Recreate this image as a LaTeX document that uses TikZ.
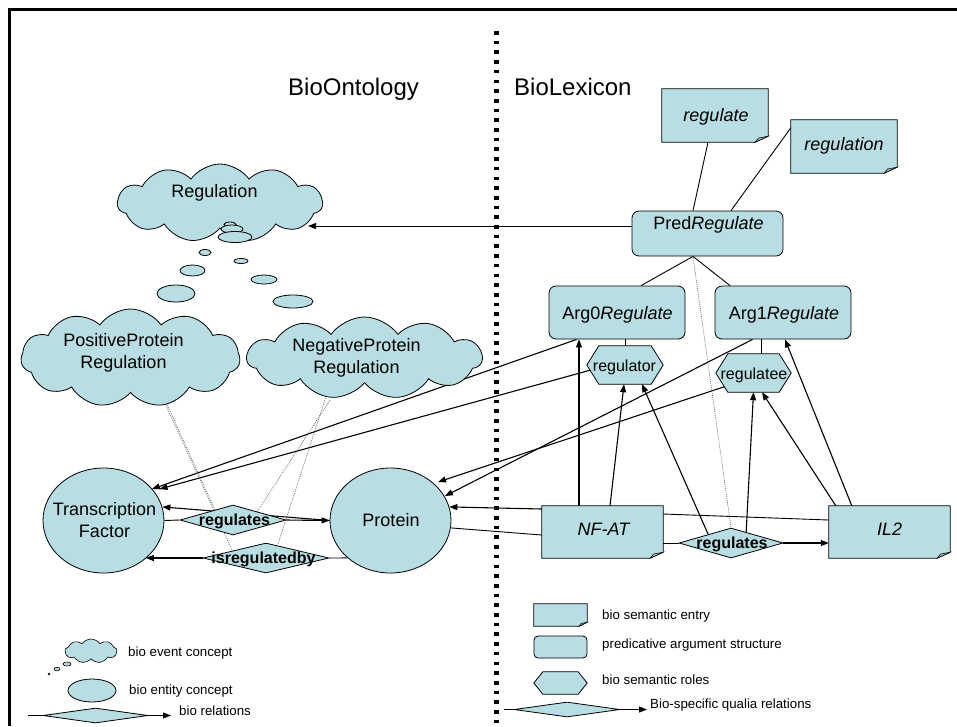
\documentclass[tikz,border=0pt]{standalone}
\usepackage{fontspec}
\setmainfont{Liberation Sans}
\usetikzlibrary{shapes.geometric,shapes.symbols,arrows.meta}
\pgfdeclarelayer{bg}
\pgfsetlayers{bg,main}
\definecolor{cfill}{RGB}{184,222,227}
\definecolor{cfold}{RGB}{150,184,189}
\newcommand\hexagonshape[2]{\filldraw[shp] (#1.west) -- ([xshift=#2]#1.north west) -- ([xshift=-#2]#1.north east) -- (#1.east) -- ([xshift=-#2]#1.south east) -- ([xshift=#2]#1.south west) -- cycle;}
\newcommand\docshape[3]{\filldraw[shp] (#1.north west) -- (#1.north east) -- ([yshift=#3]#1.south east) -- ([xshift=-#2]#1.south east) -- (#1.south west) -- cycle;
\filldraw[shp, fill=cfold, line width=0.5pt] ([yshift=#3]#1.south east) -- ([xshift=-#2]#1.south east) -- ([xshift=-0.75*#2,yshift=0.7*#3]#1.south east) -- cycle;}
\begin{document}
\begin{tikzpicture}[x=1pt,y=-1pt,
  shp/.style={fill=cfill, draw=black, line width=0.8pt},
  box/.style={rectangle, inner sep=0pt, draw=none},
  rbox/.style={rectangle, rounded corners=7pt, inner sep=0pt, shp},
  ell/.style={ellipse, inner sep=0pt, shp},
  dia/.style={diamond, inner sep=0pt, shp},
  cld/.style={cloud, cloud ignores aspect, cloud puffs=11, cloud puff arc=110, inner sep=0pt, shp},
  txt/.style={inner sep=0pt, font=\fontsize{18}{22}\selectfont, align=center},
  btxt/.style={inner sep=0pt, font=\fontsize{16}{19}\selectfont\bfseries},
  rtxt/.style={inner sep=0pt, font=\fontsize{16}{19}\selectfont},
  htxt/.style={inner sep=0pt, font=\fontsize{24}{28}\selectfont, anchor=base west},
  ltxt/.style={inner sep=0pt, font=\fontsize{13.3}{16}\selectfont, anchor=west},
  conn/.style={line width=0.9pt},
  arr/.style={line width=1.1pt, -{Triangle[length=8pt,width=6pt]}},
  dots/.style={line width=0.6pt, black!60, dash pattern=on 1pt off 1pt},
]
\useasboundingbox (0,0) rectangle (957,726);
% frame
\coordinate (fa) at (9.5,726);
\coordinate (fb) at (9.5,9.5);
\coordinate (fc) at (957,9.5);
\draw[line width=2.7pt] (fa) -- (fb) -- (fc);
% headers
\node[htxt] (hont) at (288,95) {BioOntology};
\node[htxt] (hlex) at (514,95) {BioLexicon};
% clouds
\node[cld, minimum width=205pt, minimum height=78pt] (regc) at (220,203) {};
\node[cld, minimum width=219pt, minimum height=98pt] (posc) at (130.5,358) {};
\node[cld, minimum width=235pt, minimum height=82pt] (negc) at (364.5,358) {};
\node[txt] (regct) at (214.5,193) {Regulation};
\node[txt] (posct) at (123.5,352.5) {PositiveProtein\\Regulation};
\node[txt] (negct) at (356.5,357.5) {NegativeProtein\\Regulation};
% thought bubbles
\node[ell, minimum width=12pt, minimum height=5pt] (b1) at (230,224.5) {};
\node[ell, minimum width=22pt, minimum height=8pt] (b2) at (232,229) {};
\node[ell, minimum width=34pt, minimum height=11pt] (b3) at (235,237) {};
\node[ell, minimum width=12pt, minimum height=6pt] (b4) at (205,252.5) {};
\node[ell, minimum width=25pt, minimum height=11pt] (b5) at (192.5,270.5) {};
\node[ell, minimum width=38pt, minimum height=17pt] (b6) at (176,293.5) {};
\node[ell, minimum width=14pt, minimum height=5pt] (b7) at (241,261) {};
\node[ell, minimum width=26pt, minimum height=9pt] (b8) at (264,279.5) {};
\node[ell, minimum width=40pt, minimum height=13pt] (b9) at (293,301.5) {};
% entity ellipses
\node[ell, minimum width=121pt, minimum height=105pt] (tf) at (103.5,520.5) {};
\node[ell, minimum width=121pt, minimum height=105pt] (prot) at (390.5,520.5) {};
\node[txt] (tft) at (104.5,520.5) {Transcription\\Factor};
\node[txt] (prott) at (391,520.5) {Protein};
% diamonds
\node[dia, minimum width=106pt, minimum height=30pt] (dia1) at (233,520) {};
\node[dia, minimum width=126pt, minimum height=30pt] (dia2) at (266,558) {};
\node[dia, minimum width=104pt, minimum height=30pt] (dia3) at (731,543) {};
\node[btxt] (dia1t) at (234.5,521.5) {regulates};
\node[btxt] (dia2t) at (263.5,559.5) {isregulatedby};
\node[btxt] (dia3t) at (732,544) {regulates};
% lexicon entries
\node[box, minimum width=106pt, minimum height=53pt] (reg) at (715,115.5) {};
\node[box, minimum width=106pt, minimum height=53pt] (regn) at (844,146.5) {};
\node[box, minimum width=121pt, minimum height=52pt] (nfat) at (602.5,532) {};
\node[box, minimum width=121pt, minimum height=52pt] (il2) at (889.5,532) {};
\docshape{reg}{13pt}{6pt}
\docshape{regn}{13pt}{6pt}
\docshape{nfat}{13pt}{6pt}
\docshape{il2}{13pt}{6pt}
\node[txt] (regt) at (716,116.5) {\itshape regulate};
\node[txt] (regnt) at (844,146) {\itshape regulation};
\node[txt] (nfatt) at (603.5,529) {\itshape NF-AT};
\node[txt] (il2t) at (889.5,529) {\itshape IL2};
% predicate argument structures
\node[rbox, minimum width=151pt, minimum height=45pt] (pred) at (707.5,233.5) {};
\node[rbox, minimum width=136pt, minimum height=53pt] (arg0) at (617,312.5) {};
\node[rbox, minimum width=136pt, minimum height=53pt] (arg1) at (783,312.5) {};
\node[txt] (predt) at (708.5,224.5) {Pred\textit{Regulate}};
\node[txt] (arg0t) at (617.5,315) {Arg0\textit{Regulate}};
\node[txt] (arg1t) at (784,315) {Arg1\textit{Regulate}};
% semantic roles
\node[box, minimum width=76pt, minimum height=38pt] (regr) at (625,365) {};
\node[box, minimum width=75pt, minimum height=38pt] (regee) at (753.5,373) {};
\hexagonshape{regr}{12pt}
\hexagonshape{regee}{12pt}
\node[rtxt] (regrt) at (624.5,367.5) {regulator};
\node[rtxt] (regeet) at (754,375) {regulatee};
% connectors
\begin{pgfonlayer}{bg}
\fill[white] (0,0) rectangle (957,726);
\draw[conn] ([xshift=-7pt]reg.south) -- ([xshift=-14.5pt]pred.north);
\draw[conn] ([yshift=-8pt]regn.north west) -- ([xshift=23.5pt]pred.north);
\draw[arr, line width=0.9pt] ([yshift=7.5pt]pred.west) -- ([xshift=88pt,yshift=-23pt]regc.center);
\draw[conn] ([xshift=-14.5pt]pred.south) -- ([xshift=24pt]arg0.north);
\draw[conn] ([xshift=-14.5pt]pred.south) -- ([xshift=-53pt]arg1.north);
\draw[dots] ([xshift=-14.5pt]pred.south) -- (dia3.north);
\draw[conn] ([xshift=8pt]arg0.south) -- (regr.north);
\draw[conn] ([xshift=-22pt]arg1.south) -- ([xshift=7.5pt]regee.north);
\draw[arr] ([xshift=28pt]arg0.south west) -- ([xshift=48.5pt,yshift=31.5pt]tf.center);
\draw[arr] ([xshift=4pt,yshift=-5pt]regr.west) -- ([xshift=56pt,yshift=31.5pt]tf.center);
\draw[arr] ([xshift=38pt]arg1.south west) -- ([xshift=54.5pt,yshift=24.5pt]prot.center);
\draw[arr] ([xshift=-21pt,yshift=-11pt]regee.center) -- ([xshift=47.5pt,yshift=38.5pt]prot.center);
\draw[arr] ([xshift=-23.5pt]nfat.north) -- ([xshift=-38pt]arg0.south);
\draw[arr] ([xshift=7.5pt]nfat.north) -- ([xshift=-1pt]regr.south);
\draw[arr] ([xshift=-23pt,yshift=9pt]dia3.center) -- ([xshift=17pt]regr.south);
\draw[arr] ([xshift=15pt,yshift=8pt]dia3.center) -- (regee.south);
\draw[arr] ([xshift=7pt]il2.north west) -- ([xshift=8.5pt]regee.south);
\draw[arr] ([xshift=23pt]il2.north west) -- ([xshift=2pt]arg1.south);
\draw[arr] ([yshift=23pt]nfat.west) -- (prot.13);
\draw[conn] (prot.-7) -- ([yshift=-3pt]nfat.west);
\draw[conn] ([yshift=18pt]nfat.east) -- ([yshift=12pt]il2.west);
\draw[conn] ([yshift=-11pt]nfat.east) -- (dia3.west);
\draw[arr] (dia3.east) -- ([yshift=-11pt]il2.west);
\draw[conn] (tf.east) -- (dia1.west);
\draw[arr] (dia1.east) -- (prot.west);
\draw[arr] (prot.west) -- (tf.13);
\draw[conn] (prot.south west) -- (dia2.east);
\draw[arr] (dia2.west) -- ([xshift=42.4pt,yshift=-37.5pt]tf.center);
\draw[dots] ([xshift=34.5pt,yshift=-42pt]posc.center) -- ([xshift=-18pt,yshift=10pt]dia1.center);
\draw[dots] ([xshift=33pt,yshift=-42pt]posc.center) -- ([xshift=-34pt,yshift=8pt]dia2.center);
\draw[dots] ([xshift=-34.5pt,yshift=-42pt]negc.center) -- ([xshift=24pt,yshift=8pt]dia1.center);
\draw[dots] ([xshift=-39pt,yshift=-40pt]negc.center) -- ([xshift=12pt,yshift=14pt]dia2.center);
\end{pgfonlayer}
% divider
\coordinate (dva) at (496.5,31);
\coordinate (dvb) at (496.5,726);
\draw[line width=4.5pt, dash pattern=on 3.6pt off 6.1pt] (dva) -- (dvb);
% left legend
\node[cld, cloud puffs=9, minimum width=52pt, minimum height=24pt, line width=0.6pt] (lcld) at (91,651) {};
\node[ell, minimum width=8pt, minimum height=4pt, line width=0.6pt] (lb1) at (67,664) {};
\node[ell, minimum width=6pt, minimum height=3.5pt, line width=0.6pt] (lb2) at (57,669) {};
\node[ell, minimum width=2pt, minimum height=2pt, line width=0.6pt] (lb3) at (49,674) {};
\node[ltxt] (lcldt) at (128,652.7) {bio event concept};
\node[ell, minimum width=48pt, minimum height=23pt] (lell) at (92,690.5) {};
\node[ltxt] (lellt) at (129,691) {bio entity concept};
\coordinate (lra) at (28,715.5);
\coordinate (lrb) at (171,715.5);
\draw[arr, line width=0.9pt] (lra) -- (lrb);
\node[dia, minimum width=105pt, minimum height=15pt] (ldia1) at (95.5,715.5) {};
\node[ltxt] (ldia1t) at (179,710.7) {bio relations};
% right legend
\node[box, minimum width=53pt, minimum height=22pt] (ldoc) at (560.5,615) {};
\docshape{ldoc}{8pt}{4pt}
\node[ltxt] (ldoct) at (602,615.6) {bio semantic entry};
\node[rbox, minimum width=53pt, minimum height=22pt, rounded corners=4pt] (lrect) at (560.5,647) {};
\node[ltxt] (lrectt) at (602,645.4) {predicative argument structure};
\node[box, minimum width=53pt, minimum height=22pt] (lhex) at (560.5,683) {};
\hexagonshape{lhex}{9pt}
\node[ltxt] (lhext) at (602,680) {bio semantic roles};
\coordinate (lqa) at (504,709.5);
\coordinate (lqb) at (647,709.5);
\draw[arr, line width=0.9pt] (lqa) -- (lqb);
\node[dia, minimum width=106pt, minimum height=15pt] (ldia2) at (567,709.5) {};
\node[ltxt] (ldia2t) at (650,705) {Bio-specific qualia relations};
\end{tikzpicture}
\end{document}
